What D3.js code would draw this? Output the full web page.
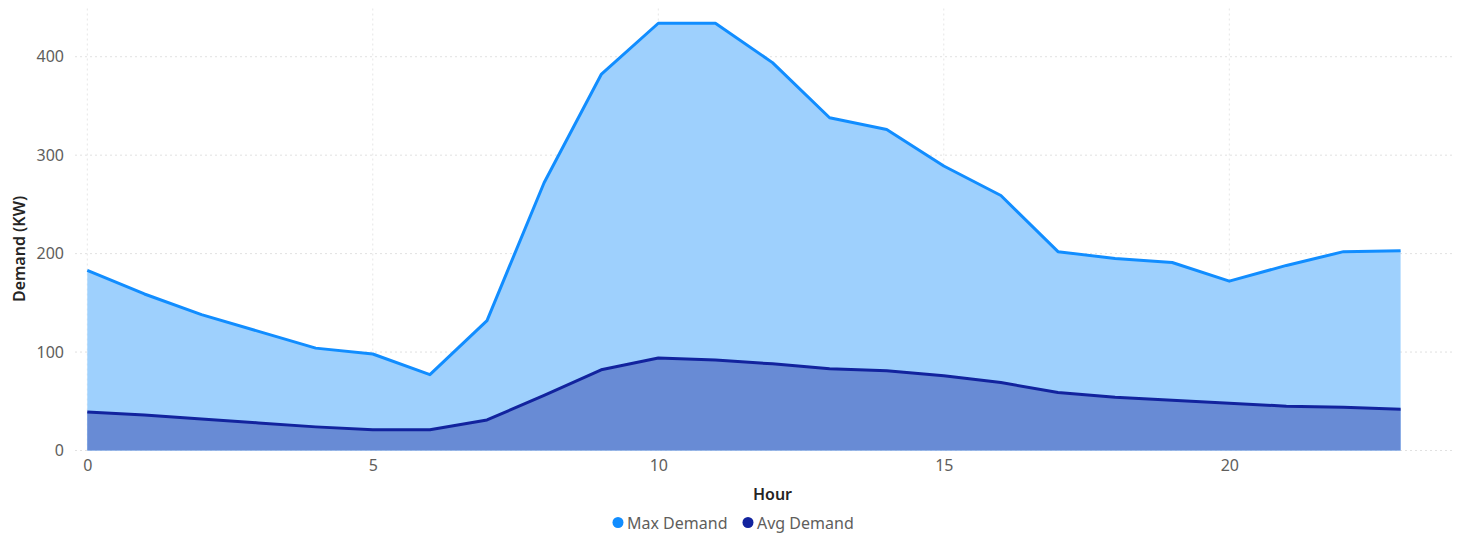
<!DOCTYPE html>
<html>
<head>
<meta charset="utf-8">
<script src="https://cdn.jsdelivr.net/npm/d3@7"></script>
<style>
  html, body { margin: 0; padding: 0; background: #fff; }
  svg { display: block; font-family: "Noto Sans", "Open Sans", sans-serif; }
</style>
</head>
<body>
<svg id="chart" width="1464" height="538"></svg>
<script>
// Hourly demand profile (KW)
const hours = d3.range(0, 24);
const maxDemand = [183, 159, 138, 121, 104, 98, 77, 132, 272, 382, 434, 434, 394, 338, 326, 289, 259, 202, 195, 191, 172, 188, 202, 203];
const avgDemand = [39, 36, 32, 28, 24, 21, 21, 31, 56, 82, 94, 92, 88, 83, 81, 76, 69, 59, 54, 51, 48, 45, 44, 42];
const xTicks = [0, 5, 10, 15, 20];
const yTicks = [0, 100, 200, 300, 400];
const seriesNames = ["Max Demand", "Avg Demand"];

const svg = d3.select("#chart");

const x = d3.scaleLinear().domain([0, 23]).range([87.3, 1400.6]);
const y = d3.scaleLinear().domain([0, 450]).range([450.5, 7.5]);
const plotLeft = 75, plotRight = 1455;

// grid
const grid = svg.append("g").attr("class", "grid");
grid.selectAll("line.h").data(yTicks).join("line")
  .attr("x1", plotLeft).attr("x2", plotRight)
  .attr("y1", d => y(d)).attr("y2", d => y(d))
  .attr("stroke", "#e1e1e1").attr("stroke-width", 1).attr("stroke-dasharray", "2,3");
grid.selectAll("line.v").data(xTicks).join("line")
  .attr("x1", d => x(d)).attr("x2", d => x(d))
  .attr("y1", y(0)).attr("y2", 8)
  .attr("stroke", "#e6e6e6").attr("stroke-width", 1).attr("stroke-dasharray", "2,3");

const rows = hours.map((h, i) => ({ h, max: maxDemand[i], avg: avgDemand[i] }));

const areaMax = d3.area().x(d => x(d.h)).y0(y(0)).y1(d => y(d.max));
const areaAvg = d3.area().x(d => x(d.h)).y0(y(0)).y1(d => y(d.avg));
const lineMax = d3.line().x(d => x(d.h)).y(d => y(d.max));
const lineAvg = d3.line().x(d => x(d.h)).y(d => y(d.avg));

svg.append("path").datum(rows).attr("d", areaMax).attr("fill", "#9ed0fd");
svg.append("path").datum(rows).attr("d", areaAvg).attr("fill", "#688bd5");
svg.append("path").datum(rows).attr("d", lineMax)
  .attr("fill", "none").attr("stroke", "#118dff").attr("stroke-width", 3)
  .attr("stroke-linejoin", "round");
svg.append("path").datum(rows).attr("d", lineAvg)
  .attr("fill", "none").attr("stroke", "#12239e").attr("stroke-width", 3)
  .attr("stroke-linejoin", "round");

// axes
const yAxis = d3.axisLeft(y).tickValues(yTicks).tickSize(0).tickPadding(0);
const gy = svg.append("g").attr("transform", "translate(64,0)").call(yAxis);
gy.select(".domain").remove();
gy.selectAll("text").attr("fill", "#605e5c").style("font-size", "16px")
  .style("font-family", "'Noto Sans', sans-serif");

const xAxis = d3.axisBottom(x).tickValues(xTicks).tickSize(0).tickPadding(0);
const gx = svg.append("g").attr("transform", "translate(0,460)").call(xAxis);
gx.select(".domain").remove();
gx.selectAll("text").attr("fill", "#605e5c").style("font-size", "16px")
  .style("font-family", "'Noto Sans', sans-serif");

// axis titles
svg.append("text").attr("x", 772.5).attr("y", 500)
  .attr("text-anchor", "middle").attr("fill", "#252423")
  .style("font-size", "16px").style("font-weight", "600").text("Hour");
svg.append("text")
  .attr("transform", "translate(25,249) rotate(-90)")
  .attr("text-anchor", "middle").attr("fill", "#252423")
  .style("font-size", "16px").style("font-weight", "600").text("Demand (KW)");

// legend
const legendColors = ["#118dff", "#12239e"];
const legendX = [618, 748];
const lg = svg.append("g");
seriesNames.forEach((name, i) => {
  lg.append("circle").attr("cx", legendX[i]).attr("cy", 522.5).attr("r", 5.5).attr("fill", legendColors[i]);
  lg.append("text").attr("x", legendX[i] + 9).attr("y", 529)
    .attr("fill", "#605e5c").style("font-size", "16px").text(name);
});
</script>
</body>
</html>
